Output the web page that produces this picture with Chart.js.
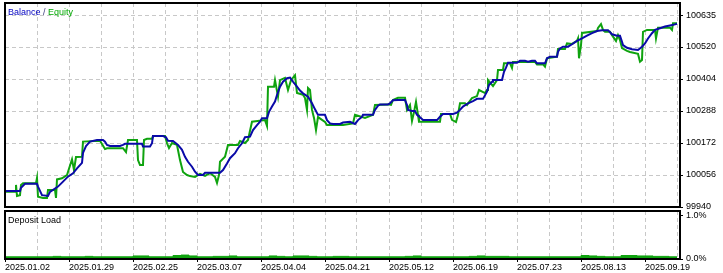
<!DOCTYPE html>
<html>
<head>
<meta charset="utf-8">
<script src="https://cdn.jsdelivr.net/npm/chart.js@4.4.1/dist/chart.umd.min.js"></script>
<style>
  body { margin: 0; background: #fff; }
  #wrap { position: relative; width: 723px; height: 273px; }
  canvas { position: absolute; left: 0; }
  #mainChart { top: 0; }
  #loadChart { top: 208px; }
</style>
</head>
<body>
<div id="wrap">
  <canvas id="mainChart" width="723" height="210"></canvas>
  <canvas id="loadChart" width="723" height="65"></canvas>
</div>
<script>
// --- Data (x = deal number on the report axis) ---
const balanceDeal = [0,15,16,20,32,33,37,43,45,53,58,63,68,72,77,78,81,85,92,98,100,102,105,115,118,120,137,138,145,147,148,158,161,163,168,173,177,180,183,187,190,193,198,200,215,218,222,225,230,233,237,240,245,248,252,255,257,262,264,267,270,272,275,278,282,285,288,292,295,298,303,307,310,313,320,322,325,328,335,338,345,350,353,357,358,368,370,373,375,383,385,388,393,400,402,403,407,410,412,415,418,432,435,438,448,452,455,458,463,468,472,478,482,484,487,488,497,499,501,503,512,515,520,523,527,530,532,540,542,545,552,553,555,558,563,567,572,577,582,587,592,597,603,607,612,615,617,618,622,627,633,637,640,643,647,650,655,660,665,670,672];
const balanceValues = [99998,99998,100010,100024,100024,100014,99983,99980,99995,100014,100032,100050,100062,100080,100100,100136,100161,100177,100183,100183,100177,100165,100161,100161,100165,100169,100169,100159,100159,100171,100197,100197,100193,100180,100179,100165,100147,100122,100104,100086,100068,100056,100056,100064,100064,100074,100098,100117,100135,100153,100171,100193,100195,100219,100237,100249,100262,100262,100285,100304,100322,100346,100376,100394,100407,100409,100394,100376,100362,100352,100340,100316,100294,100274,100274,100255,100243,100241,100241,100246,100249,100241,100255,100267,100274,100274,100292,100307,100312,100312,100316,100327,100328,100328,100310,100292,100288,100288,100274,100265,100255,100255,100267,100277,100277,100282,100292,100304,100316,100324,100332,100332,100358,100382,100394,100400,100400,100430,100445,100463,100463,100470,100470,100467,100470,100470,100461,100461,100479,100485,100485,100503,100515,100521,100521,100530,100542,100551,100561,100570,100578,100581,100581,100566,100561,100561,100539,100527,100517,100512,100509,100521,100533,100551,100570,100582,100588,100594,100598,100602,100604];

const equityDeal = [0,10,11,12,15,16,18,31,32,33,38,42,43,50,51,52,57,62,67,69,71,77,78,95,100,102,118,121,123,132,133,135,138,139,142,147,148,160,162,164,167,172,175,178,182,185,190,195,200,205,210,212,214,215,220,223,233,235,240,243,247,260,262,263,269,270,273,275,280,283,286,290,292,298,300,302,303,305,307,309,311,313,320,322,338,348,350,360,368,370,383,386,388,393,400,402,405,407,409,411,413,414,435,436,445,447,451,453,455,460,462,467,472,474,480,482,483,488,492,493,498,499,505,507,508,530,532,538,540,542,552,553,560,562,567,572,573,574,576,577,592,593,596,598,600,605,607,611,613,615,617,622,625,633,635,637,638,642,650,651,653,665,667,668,672];
const equityValues = [99995,99995,100020,99980,99983,100020,100026,100026,100045,99977,99973,99973,100002,100002,99973,100040,100044,100056,100113,100074,100121,100122,100177,100180,100150,100153,100153,100139,100183,100183,100110,100092,100092,100183,100187,100187,100197,100197,100171,100154,100172,100165,100110,100067,100056,100052,100049,100060,100053,100063,100049,100027,100056,100104,100122,100165,100165,100179,100172,100183,100249,100255,100234,100376,100376,100400,100340,100400,100408,100364,100400,100418,100353,100347,100335,100292,100371,100364,100292,100263,100219,100266,100248,100237,100237,100243,100274,100263,100274,100310,100312,100310,100328,100336,100336,100292,100310,100252,100284,100321,100274,100249,100249,100277,100277,100256,100248,100274,100316,100316,100310,100335,100342,100364,100353,100364,100400,100378,100400,100437,100437,100461,100461,100444,100466,100466,100457,100457,100449,100479,100485,100513,100513,100533,100531,100542,100551,100479,100527,100571,100578,100589,100603,100582,100575,100575,100563,100542,100563,100545,100516,100506,100502,100495,100467,100473,100575,100582,100582,100551,100590,100590,100582,100606,100606];

// deposit load in %, one value every 8 deals
const loadDeal = [0,8,16,24,32,40,48,56,64,72,80,88,96,104,112,120,128,136,144,152,160,168,176,184,192,200,208,216,224,232,240,248,256,264,272,280,288,296,304,312,320,328,336,344,352,360,368,376,384,392,400,408,416,424,432,440,448,456,464,472,480,488,496,504,512,520,528,536,544,552,560,568,576,584,592,600,608,616,624,632,640,648,656,664,672];
const loadValues = [0.05,0.05,0.05,0.05,0.05,0.05,0.06,0.05,0.05,0.05,0.06,0.05,0.05,0.05,0.05,0.05,0.07,0.07,0.05,0.05,0.05,0.08,0.09,0.07,0.05,0.05,0.06,0.06,0.07,0.05,0.05,0.05,0.05,0.07,0.06,0.05,0.07,0.07,0.06,0.05,0.05,0.06,0.06,0.05,0.05,0.05,0.05,0.05,0.05,0.05,0.06,0.07,0.05,0.05,0.05,0.05,0.05,0.05,0.06,0.07,0.06,0.06,0.06,0.05,0.05,0.05,0.05,0.05,0.05,0.05,0.05,0.05,0.08,0.07,0.06,0.05,0.05,0.08,0.08,0.07,0.07,0.06,0.06,0.05,0.05];

const priceTicks = [99940, 100056, 100172, 100288, 100404, 100520, 100635];
const loadTicks = [0, 1.0];
const dateLabels = ["2025.01.02","2025.01.29","2025.02.25","2025.03.07","2025.04.04","2025.04.21","2025.05.12","2025.06.19","2025.07.23","2025.08.13","2025.09.19"];

const dealMax = 675;
const gridStep = 32;
const labelStep = 64;

const FONT = { family: "'Liberation Sans', Arial, sans-serif", size: 9 };
const gridColor = "#c8c8c8";
const balanceColor = "#0a0aa8";
const equityColor = "#0fa30f";

function pairs(xs, ys) {
  return xs.map((x, i) => ({ x: x, y: ys[i] }));
}

function gridTicks() {
  const t = [];
  for (let v = 0; v <= dealMax; v += gridStep) t.push({ value: v });
  return t;
}

// --- frame + captions ---
const framePlugin = {
  id: "frame",
  afterDraw(chart, args, opts) {
    const { ctx, chartArea: a } = chart;
    ctx.save();
    ctx.strokeStyle = "#000";
    ctx.lineWidth = 2;
    ctx.strokeRect(a.left, a.top, a.right - a.left, a.bottom - a.top);
    ctx.font = "9px 'Liberation Sans', Arial, sans-serif";
    ctx.textBaseline = "middle";
    let x = a.left + 3;
    (opts.caption || []).forEach(part => {
      ctx.fillStyle = part.color;
      ctx.fillText(part.text, x, a.top + 9.5);
      x += ctx.measureText(part.text).width;
    });
    ctx.restore();
  }
};

Chart.defaults.font.family = FONT.family;
Chart.defaults.font.size = FONT.size;
Chart.defaults.color = "#000";

// --- Balance / Equity ---
new Chart(document.getElementById("mainChart"), {
  type: "line",
  data: {
    datasets: [
      { label: "Balance", data: pairs(balanceDeal, balanceValues), borderColor: balanceColor, borderWidth: 2 },
      { label: "Equity", data: pairs(equityDeal, equityValues), borderColor: equityColor, borderWidth: 2 }
    ]
  },
  options: {
    responsive: false,
    animation: false,
    events: [],
    elements: { point: { radius: 0 }, line: { tension: 0 } },
    layout: { padding: { left: 5, top: 3, right: 0, bottom: 3 } },
    plugins: {
      legend: { display: false },
      tooltip: { enabled: false },
      frame: { caption: [
        { text: "Balance", color: "#0000c0" },
        { text: " / ", color: "#404080" },
        { text: "Equity", color: "#00a800" }
      ] }
    },
    scales: {
      x: {
        type: "linear", min: 0, max: dealMax,
        afterBuildTicks: s => { s.ticks = gridTicks(); },
        afterFit: s => { s.height = 0; s.paddingLeft = 0; s.paddingRight = 0; },
        ticks: { display: false },
        grid: { color: gridColor, drawTicks: false, lineWidth: 1 },
        border: { display: false, dash: [4, 3] }
      },
      y: {
        position: "right",
        min: 99940, max: 100679.5,
        afterBuildTicks: s => { s.ticks = priceTicks.map(v => ({ value: v })); },
        afterFit: s => { s.width = 43; s.paddingTop = 0; s.paddingBottom = 0; },
        ticks: { padding: 3, callback: v => String(v) },
        grid: { color: gridColor, tickColor: "#000", tickLength: 3, tickBorderDash: [] },
        border: { display: false, dash: [4, 3] }
      }
    }
  },
  plugins: [framePlugin]
});

// --- Deposit Load ---
new Chart(document.getElementById("loadChart"), {
  type: "line",
  data: {
    datasets: [
      { label: "Deposit Load", data: pairs(loadDeal, loadValues), borderColor: equityColor,
        backgroundColor: equityColor, borderWidth: 1, fill: "origin", stepped: true }
    ]
  },
  options: {
    responsive: false,
    animation: false,
    events: [],
    elements: { point: { radius: 0 } },
    layout: { padding: { left: 5, top: 3, right: 0, bottom: 0 } },
    plugins: {
      legend: { display: false },
      tooltip: { enabled: false },
      frame: { caption: [{ text: "Deposit Load", color: "#000" }] }
    },
    scales: {
      x: {
        type: "linear", min: 0, max: dealMax,
        afterBuildTicks: s => { s.ticks = gridTicks(); },
        afterFit: s => { s.height = 14; s.paddingLeft = 0; s.paddingRight = 0; },
        ticks: {
          autoSkip: false, maxRotation: 0, padding: 0, align: "start",
          callback: v => (v % labelStep === 0 ? dateLabels[v / labelStep] : "")
        },
        grid: {
          color: gridColor, tickLength: 3, tickBorderDash: [],
          tickColor: c => (c.tick && c.tick.value % labelStep === 0 ? "#000" : "rgba(0,0,0,0)")
        },
        border: { display: false, dash: [4, 3] }
      },
      y: {
        position: "right",
        min: 0, max: 1.1,
        afterBuildTicks: s => { s.ticks = loadTicks.map(v => ({ value: v })); },
        afterFit: s => { s.width = 43; s.paddingTop = 0; s.paddingBottom = 0; },
        ticks: { padding: 3, callback: v => v.toFixed(1) + "%" },
        grid: { drawOnChartArea: false, tickColor: "#000", tickLength: 3 },
        border: { display: false }
      }
    }
  },
  plugins: [framePlugin]
});
</script>
</body>
</html>
